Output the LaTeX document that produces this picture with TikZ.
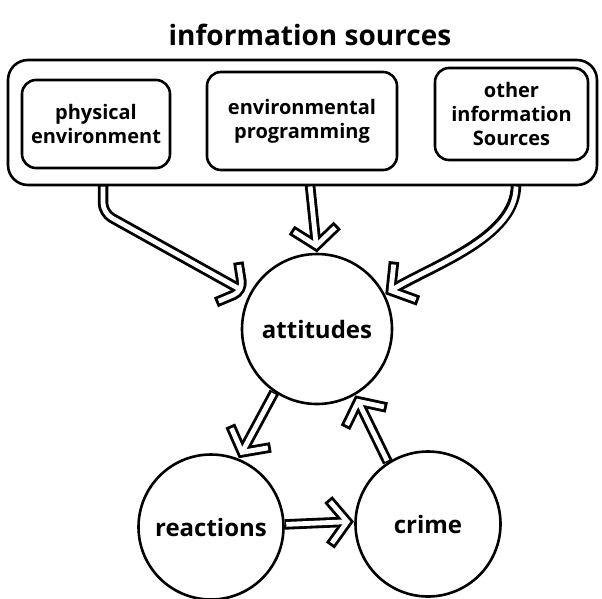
\documentclass[tikz,border=0pt]{standalone}
\usepackage{fontspec}
\setmainfont{Open Sans}
\usetikzlibrary{decorations.markings}

\tikzset{
	pen/.style={draw, line width=2.6pt},
	srcbox/.style={pen, rounded corners=14pt, align=center, inner sep=0pt,
		font=\fontsize{20}{24}\selectfont\bfseries},
	blob/.style={pen, circle, inner sep=0pt, font=\fontsize{24}{28}\selectfont\bfseries},
	% hollow hand-drawn arrow: black pass, then white pass
	flow/.style={line width=10.5pt, shorten >=7pt,
		postaction={decorate, decoration={markings, mark=at position 1 with
			{\draw[line width=10.5pt, shorten >=0pt, shorten <=0pt, line join=miter]
				(-25pt,-23pt) -- (-7pt,0pt) -- (-25pt,23pt);}}},
		postaction={draw=white, line width=4.8pt, shorten >=8.5pt, shorten <=1.5pt},
		postaction={decorate, decoration={markings, mark=at position 1 with
			{\draw[white, line width=4.8pt, shorten >=0pt, shorten <=0pt, line join=miter]
				(-23.2pt,-20.7pt) -- (-7pt,0pt) -- (-23.2pt,20.7pt);}}}},
}

\begin{document}
\begin{tikzpicture}[x=1pt, y=1pt]
	\useasboundingbox (0,0) rectangle (602,-598);
	\node (title) at (310,-35) {\fontsize{28}{32}\selectfont\bfseries information sources};
	\node (info) at (302.5,-122.5) [pen, rounded corners=20pt, minimum width=589pt, minimum height=125pt] {};
		\node (phys) at (96,-124) [srcbox, minimum width=148pt, minimum height=88pt] {physical\\environment};
		\node (prog) at (302,-121) [srcbox, minimum width=190pt, minimum height=98pt] {environmental\\programming};
		\node (other) at (511.5,-114) [srcbox, minimum width=153pt, minimum height=92pt] {other\\information\\Sources};
	\coordinate (s1) at (103,-185);
	\coordinate (s2) at (310,-185);
	\coordinate (s3) at (516,-185);
			\node (att) at (317,-329) [blob, minimum size=150pt] {attitudes};
			\node (react) at (211,-527) [blob, minimum size=145pt] {reactions};
			\node (crime) at (428,-524) [blob, minimum size=145pt] {crime};
	\draw[flow, rounded corners=10pt] (s1) -- ++(0,-28) -- (att.153);
	\draw[flow] (s2) -- (att.north);
	\draw[flow] (s3) to[out=-90, in=32, looseness=0.8] (att.27);
	\draw[flow] (att.236) -- (react.68);
	\draw[flow] (crime.123) -- (att.300);
	\draw[flow] (react.2) -- (crime.178);
\end{tikzpicture}
\end{document}
